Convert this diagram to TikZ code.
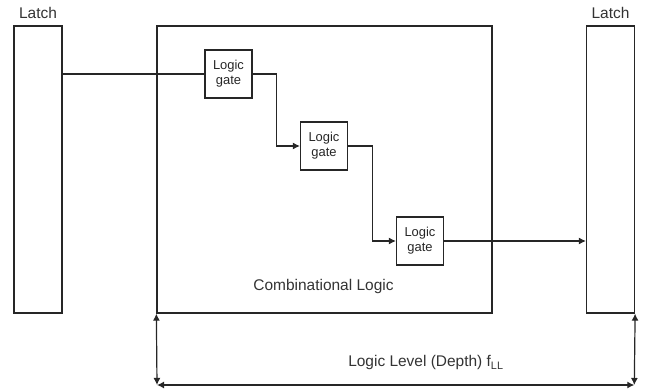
\documentclass[tikz,border=0pt]{standalone}
\usepackage{fontspec}
\setmainfont{Liberation Sans}
\usepackage{tikz}
\usetikzlibrary{positioning,arrows.meta}
\tikzset{latch/.style = {draw, rectangle, minimum width=1.2cm, minimum height=7.175cm, inner sep=0pt}}
\tikzset{comblogic/.style = {draw, rectangle, minimum width=8.375cm, minimum height=7.175cm, inner sep=0pt}}
\tikzset{gate/.style = {draw, rectangle, minimum width=1.175cm, minimum height=1.2cm, inner sep=0pt, align=center, font=\fontsize{9.2}{10.6}\selectfont}}
\tikzset{lbl/.style = {font=\fontsize{11}{13}\selectfont, text=black!80}}

\begin{document}
\begin{tikzpicture}[x=0.025cm, y=-0.025cm, >={Latex[length=5pt,width=5pt]}, line width=0.85pt, color=black!85]
  \useasboundingbox (0,0) rectangle (649,392);
  \node [latch] (latchL) at (38,169.5) {};
  \node [comblogic] (comb) at (324.5,169.5) {};
  \node [latch] (latchR) at (610.5,169.5) {};
  \node [lbl, above=1pt of latchL] {Latch};
  \node [lbl, above=1pt of latchR] {Latch};

  \node [gate] (g1) at (228.5,74) {Logic\\gate};
  \node [gate] (g2) at (324,146) {Logic\\gate};
  \node [gate] (g3) at (420,241) {Logic\\gate};
  \node [lbl, anchor=base] (combtxt) at (323.5,290.7) {Combinational Logic};

  \draw (latchL.east |- g1.west) -- (g1.west);
  \draw[->] (g1.east) -- ++(24,0) |- (g2.west);
  \draw[->] (g2.east) -- ++(24,0) |- (g3.west);
  \draw[->] (g3.east) -- (g3.east -| latchR.west);

  % depth
  \coordinate (dimL) at (157,385);
  \coordinate (dimR) at (634.3,385);
  \draw[<->] (comb.south west) -- (dimL);
  \draw[<->] (latchR.south east) -- (dimR);
  \draw[<->] (dimL) -- (dimR);
  \node [lbl, anchor=base] (depth) at (426,366.7) {Logic Level (Depth) f\textsubscript{LL}};
\end{tikzpicture}
\end{document}
